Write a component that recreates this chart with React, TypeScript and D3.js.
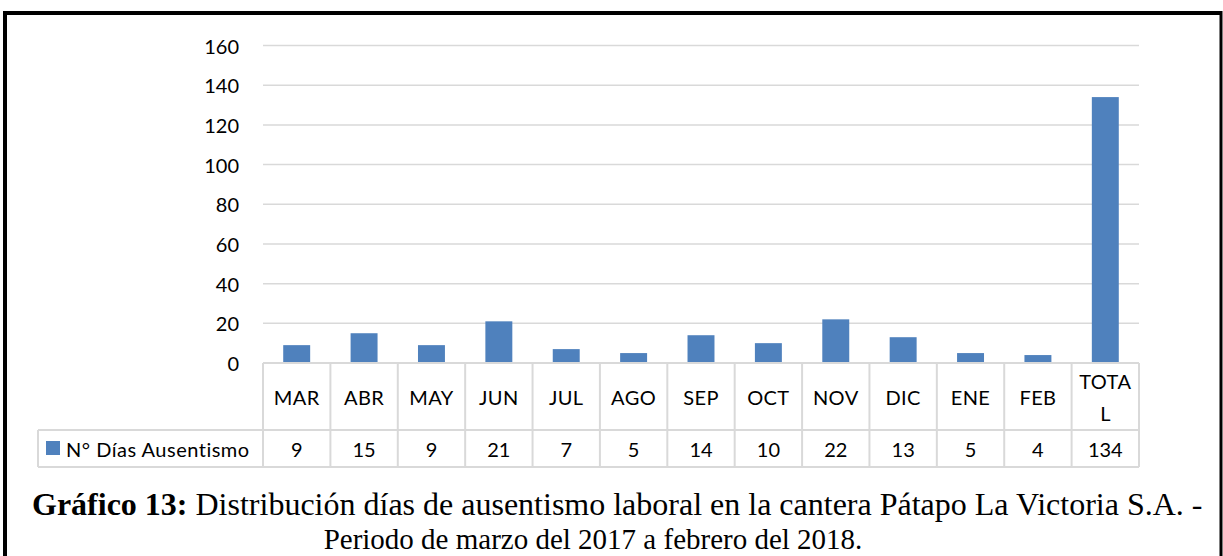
import React from "react";
import * as d3 from "d3";

const months = ["MAR", "ABR", "MAY", "JUN", "JUL", "AGO", "SEP", "OCT", "NOV", "DIC", "ENE", "FEB", "TOTAL"];
const values = [9, 15, 9, 21, 7, 5, 14, 10, 22, 13, 5, 4, 134];
const yTicks = [0, 20, 40, 60, 80, 100, 120, 140, 160];
const seriesName = "N° Días Ausentismo";
const captionBold = "Gráfico 13:";
const captionLine1 = " Distribución días de ausentismo laboral en la cantera Pátapo La Victoria S.A. -";
const captionLine2 = "Periodo de marzo del 2017 a febrero del 2018.";

const W = 1223;
const H = 556;
const left = 263;
const right = 1139;
const top = 45.5;
const zeroY = 363;
const headerBottom = 430;
const tableBottom = 467;
const legendLeft = 38;
const barColor = "#4f81bd";
const gridColor = "#d9d9d9";
const sans = "Lato, 'Open Sans', sans-serif";
const serif = "'Liberation Serif', 'Times New Roman', serif";

export default function App() {
  const x = d3.scaleBand<string>().domain(months).range([left, right]).paddingInner(0).paddingOuter(0);
  const y = d3.scaleLinear().domain([0, 160]).range([zeroY, top]);
  const bw = x.bandwidth();
  const barW = bw * 0.4;

  return (
    <svg width={W} height={H} style={{ position: "absolute", left: 0, top: 0, background: "#fff" }}>
      <rect x={0} y={0} width={W} height={H} fill="#fff" />
      {/* frame */}
      <line x1={3} x2={1222} y1={13} y2={13} stroke="#000" strokeWidth={4} />
      <line x1={5} x2={5} y1={11} y2={H} stroke="#000" strokeWidth={4} />
      <line x1={1221} x2={1221} y1={11} y2={H} stroke="#000" strokeWidth={3} />

      {/* gridlines */}
      {yTicks.map((t) => (
        <g key={t}>
          <line x1={left} x2={right} y1={y(t)} y2={y(t)} stroke={gridColor} strokeWidth={1.5} />
          <text x={239} y={y(t)} textAnchor="end" dominantBaseline="central" fontFamily={sans} fontSize={20} fill="#000">
            {t}
          </text>
        </g>
      ))}

      {/* bars */}
      {values.map((v, i) => (
        <rect
          key={months[i]}
          x={(x(months[i]) as number) + (bw - barW) / 2}
          y={y(v)}
          width={barW}
          height={zeroY - y(v)}
          fill={barColor}
        />
      ))}

      {/* table */}
      <g stroke={gridColor} strokeWidth={2} fill="none">
        <line x1={left} x2={right} y1={zeroY} y2={zeroY} />
        <line x1={legendLeft} x2={right} y1={headerBottom} y2={headerBottom} />
        <line x1={legendLeft} x2={right} y1={tableBottom} y2={tableBottom} />
        <line x1={legendLeft} x2={legendLeft} y1={headerBottom} y2={tableBottom} />
        {months.map((m) => (
          <line key={m} x1={x(m) as number} x2={x(m) as number} y1={zeroY} y2={tableBottom} />
        ))}
        <line x1={right} x2={right} y1={zeroY} y2={tableBottom} />
      </g>

      {months.map((m, i) => {
        const cx = (x(m) as number) + bw / 2;
        const hy = (zeroY + headerBottom) / 2;
        return (
          <g key={m} fontFamily={sans} fontSize={20} fill="#000" textAnchor="middle">
            {m === "TOTAL" ? (
              <>
                <text x={cx} y={hy - 16} dominantBaseline="central" letterSpacing={0.4}>TOTA</text>
                <text x={cx} y={hy + 16} dominantBaseline="central">L</text>
              </>
            ) : (
              <text x={cx} y={hy} dominantBaseline="central" letterSpacing={0.4}>{m}</text>
            )}
            <text x={cx} y={(headerBottom + tableBottom) / 2} dominantBaseline="central">
              {values[i]}
            </text>
          </g>
        );
      })}

      {/* legend */}
      <rect x={46} y={441} width={14} height={14} fill={barColor} />
      <text x={66} y={(headerBottom + tableBottom) / 2} dominantBaseline="central" fontFamily={sans} fontSize={20} letterSpacing={0.5} fill="#000">
        {seriesName}
      </text>

      {/* caption */}
      <text x={32} y={515} textAnchor="start" fontFamily={serif} fontSize={32} fill="#000">
        <tspan fontWeight="bold">{captionBold}</tspan>
        <tspan>{captionLine1}</tspan>
      </text>
      <text x={593} y={549} textAnchor="middle" fontFamily={serif} fontSize={29} fill="#000">
        {captionLine2}
      </text>
    </svg>
  );
}
